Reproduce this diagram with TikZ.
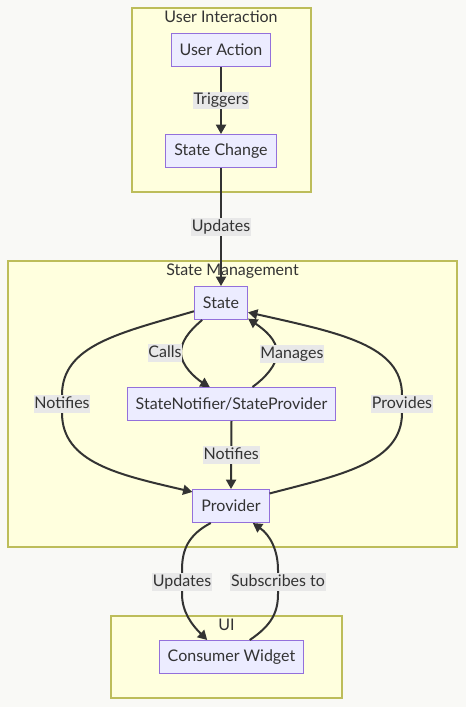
\documentclass[tikz,border=0pt]{standalone}
\usepackage{fontspec}
\setmainfont{Lato}
\usetikzlibrary{arrows.meta}
\definecolor{bgcol}{HTML}{F9F9F6}
\definecolor{clusterfill}{HTML}{FFFFDE}
\definecolor{clusterline}{HTML}{BDBD5A}
\definecolor{boxfill}{HTML}{ECECFF}
\definecolor{boxline}{HTML}{9370DB}
\definecolor{linecol}{HTML}{333333}
\definecolor{lblfill}{HTML}{E8E8E8}
\definecolor{textcol}{HTML}{333333}
\begin{document}
\begin{tikzpicture}[x=0.75pt, y=-0.75pt,
    font=\fontsize{12}{14}\selectfont,
    cluster/.style={draw=clusterline, fill=clusterfill, line width=0.9pt},
    box/.style={draw=boxline, fill=boxfill, text=textcol, line width=0.75pt,
      minimum height=24.75pt, inner xsep=6.4pt},
    lbl/.style={fill=lblfill, text=textcol, inner xsep=0.6pt, inner ysep=0.6pt,
      text height=9pt, text depth=3pt},
    title/.style={text=textcol, text height=9pt, text depth=3pt},
    edge/.style={draw=linecol, line width=1.5pt, -{Triangle[length=7pt,width=7.5pt]}}]
  \fill[bgcol] (0,0) rectangle (466,707);
  \useasboundingbox (0,0) rectangle (466,707);

  % subgraphs
  \draw[cluster] (132,8) rectangle (311,192);
  \node[title] (ttlUser) at (221,18) {User Interaction};
  \draw[cluster] (8,261) rectangle (457,547);
  \node[title] (ttlState) at (232.5,271) {State Management};
  \draw[cluster] (111,616) rectangle (342,698);
  \node[title] (ttlUI) at (226.5,626) {UI};

  % nodes
  \node[box] (act) at (221,50) {User Action};
  \node[box] (chg) at (221,151) {State Change};
  \node[box] (state) at (221,303) {State};
  \node[box] (sn) at (231.5,404) {StateNotifier/StateProvider};
  \node[box] (prov) at (231,506) {Provider};
  \node[box] (cons) at (231.5,657) {Consumer Widget};

  % edges
  \draw[edge] (act) -- node[lbl]{Triggers} (chg);
  \draw[edge] (chg) -- node[lbl]{Updates} (state);
  \draw[edge] (state.197) .. controls (120,333) and (62,345) .. (62,395)
    -- node[lbl]{Notifies} (62,413) .. controls (62,463) and (120,475) .. (prov.160);
  \draw[edge] (state.222) .. controls (188,332) and (181,342) .. (181,353)
    node[lbl] at (165,353) {Calls} .. controls (181,365) and (195,378) .. (sn.142);
  \draw[edge] (sn.39) .. controls (265,378) and (277,365) .. (277,353)
    node[lbl] at (292,354) {Manages} .. controls (277,340) and (265,330) .. (state.330);
  \draw[edge] (prov.18) .. controls (340,475) and (402,463) .. (402,413)
    -- node[lbl]{Provides} (402,395) .. controls (402,345) and (340,333) .. (state.341);
  \draw[edge] (sn.south) -- node[lbl]{Notifies} (prov.north);
  \draw[edge] (prov.220) .. controls (188,535) and (182,550) .. (182,570)
    -- node[lbl]{Updates} (182,594) .. controls (182,612) and (192,625) .. (cons.145);
  \draw[edge] (cons.43) .. controls (272,625) and (278,612) .. (278,594)
    -- node[lbl]{Subscribes to} (278,570) .. controls (278,550) and (270,535) .. (prov.322);
\end{tikzpicture}
\end{document}
